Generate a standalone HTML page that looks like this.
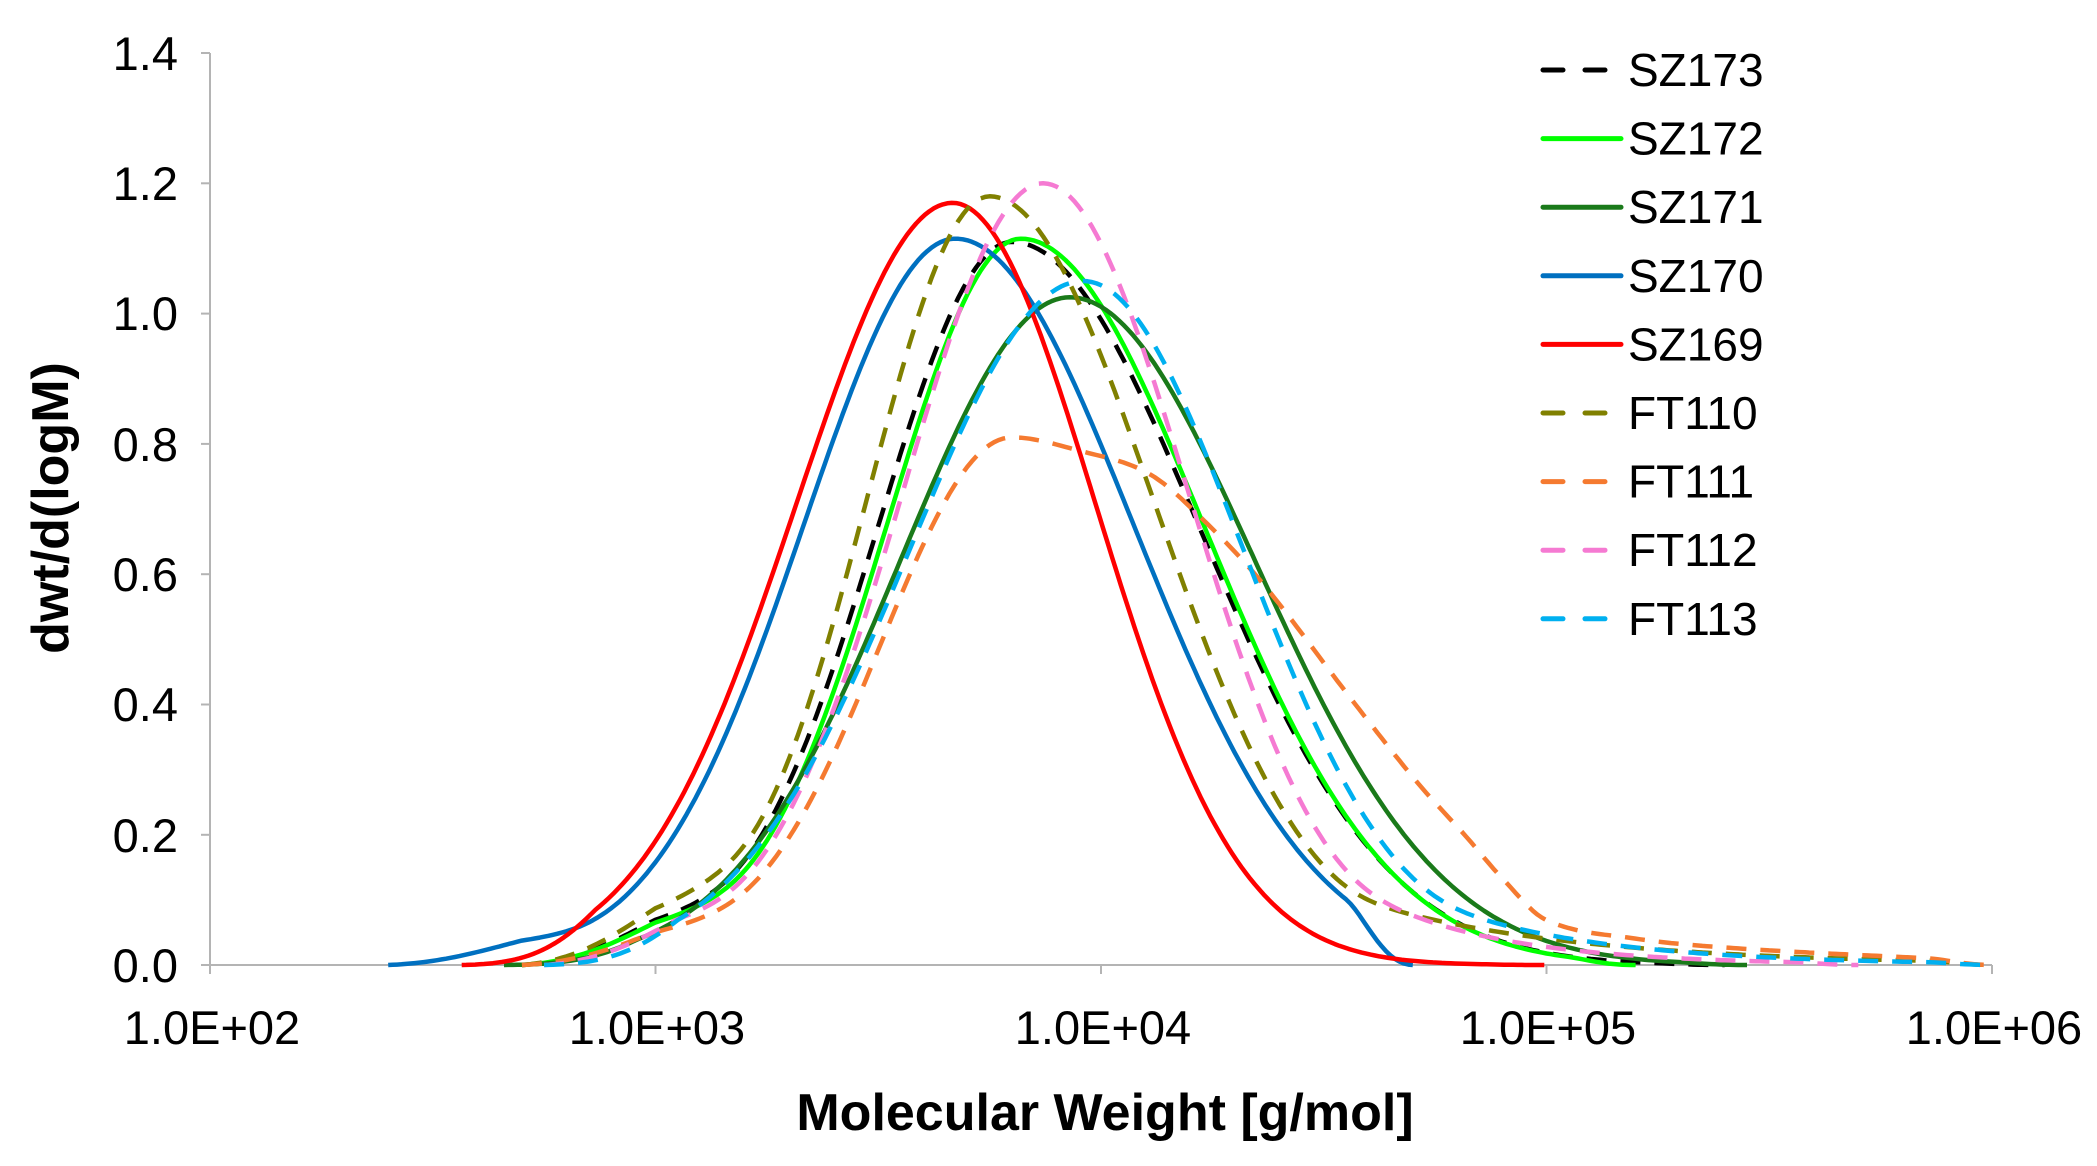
<!DOCTYPE html>
<html><head><meta charset="utf-8"><style>
html,body{margin:0;padding:0;background:#fff;}
svg{display:block;font-family:"Liberation Sans",Arial,sans-serif;}
</style></head><body>
<svg id="s" width="2097" height="1166" viewBox="0 0 2097 1166" xmlns="http://www.w3.org/2000/svg">
<g stroke="#b4b4b4" stroke-width="2" fill="none">
<line x1="210" y1="53" x2="210" y2="965"/>
<line x1="210" y1="965" x2="1992" y2="965"/>
<line x1="201" y1="53" x2="210" y2="53"/>
<line x1="201" y1="183.3" x2="210" y2="183.3"/>
<line x1="201" y1="313.6" x2="210" y2="313.6"/>
<line x1="201" y1="443.9" x2="210" y2="443.9"/>
<line x1="201" y1="574.2" x2="210" y2="574.2"/>
<line x1="201" y1="704.5" x2="210" y2="704.5"/>
<line x1="201" y1="834.8" x2="210" y2="834.8"/>
<line x1="201" y1="965" x2="210" y2="965"/>
<line x1="210" y1="965" x2="210" y2="974"/>
<line x1="655.5" y1="965" x2="655.5" y2="974"/>
<line x1="1101" y1="965" x2="1101" y2="974"/>
<line x1="1546.5" y1="965" x2="1546.5" y2="974"/>
<line x1="1992" y1="965" x2="1992" y2="974"/>
</g>
<g font-size="47" fill="#000" text-anchor="end">
<text x="178" y="70">1.4</text>
<text x="178" y="200">1.2</text>
<text x="178" y="330">1.0</text>
<text x="178" y="461">0.8</text>
<text x="178" y="591">0.6</text>
<text x="178" y="721">0.4</text>
<text x="178" y="852">0.2</text>
<text x="178" y="982">0.0</text>
</g>
<g font-size="47" fill="#000" text-anchor="middle">
<text x="212" y="1044">1.0E+02</text>
<text x="657" y="1044">1.0E+03</text>
<text x="1103" y="1044">1.0E+04</text>
<text x="1548" y="1044">1.0E+05</text>
<text x="1994" y="1044">1.0E+06</text>
</g>
<text x="1105" y="1130" font-size="52" font-weight="bold" text-anchor="middle">Molecular Weight [g/mol]</text>
<text transform="translate(68,508) rotate(-90)" font-size="52" font-weight="bold" text-anchor="middle">dwt/d(logM)</text>
<g id="curves" fill="none" stroke-width="4.5" stroke-linejoin="round"></g>
<g id="legend" font-size="46" fill="#000"></g>
</svg>
<script>
var NS="http://www.w3.org/2000/svg";
function X(l){return 210+(l-2)*445.5;}
function Y(v){return 965-v*651.4;}
var P=[[-0.15,0.975],[0,1],[0.15,0.975],[0.31,0.93],[0.446,0.83],[0.57,0.716],[0.76,0.506],[0.91,0.346],[1.02,0.243],[1.1,0.165],[1.2,0.085],[1.4,0.05],[1.62,0.032],[2.0,0.015],[2.2,0.008],[2.5,0.004]];
function tab(d){for(var i=1;i<P.length-2;i++){if(d<=P[i+1][0]){var p0=P[i-1],p1=P[i],p2=P[i+1],p3=P[i+2];var t=(d-p1[0])/(p2[0]-p1[0]);
 var m1=(p2[1]-p0[1])/(p2[0]-p0[0])*(p2[0]-p1[0]),m2=(p3[1]-p1[1])/(p3[0]-p1[0])*(p2[0]-p1[0]);
 var t2=t*t,t3=t2*t;return (2*t3-3*t2+1)*p1[1]+(t3-2*t2+t)*m1+(-2*t3+3*t2)*p2[1]+(t3-t2)*m2;}}return 0.004;}
var S=[
{n:"SZ173",c:"#000000",dash:true,p:3.80,h:1.11,sl:.30,sr:.42,lw:.9,lL:.3,x0:2.70,x1:5.4},
{n:"SZ172",c:"#00ff00",p:3.82,h:1.115,sl:.30,sr:.41,lw:.9,lL:.3,x0:2.70,x1:5.2},
{n:"SZ171",c:"#1a7a1a",p:3.93,h:1.025,sl:.38,sr:.415,x0:2.66,x1:5.45},
{n:"SZ170",c:"#0070c0",p:3.673,h:1.115,sl:.34,sr:.40,lw:.5,lL:.36,x0:2.40,x1:4.7},
{n:"SZ169",c:"#ff0000",p:3.667,h:1.17,sl:.35,sr:.32,x0:2.565,x1:5.0},
{n:"FT110",c:"#808000",dash:true,p:3.75,h:1.18,sl:.275,sr:.367,rw:.49,rL:.47,lw:.9,lL:.3,x0:2.70,x1:6.0},
{n:"FT111",c:"#f57a30",dash:true,p:3.80,h:.81,sl:.295,tabR:true,lw:.9,lL:.3,x0:2.70,x1:6.0},
{n:"FT112",c:"#f57ad2",dash:true,p:3.87,h:1.2,sl:.314,sr:.325,rw:1.0,rL:.3,lw:.9,lL:.3,x0:2.75,x1:5.7},
{n:"FT113",c:"#00b0f0",dash:true,p:3.96,h:1.05,sl:.39,sr:.36,rw:.8,rL:.36,x0:2.75,x1:6.0}
];
function sm(q){return q*q*(3-2*q);}
function f(s,x){var d=x-s.p,g,t=0;
 if(d<0){g=Math.exp(-d*d/(2*s.sl*s.sl));if(s.lw)t=s.lw*Math.exp(d/s.lL);}
 else{ if(s.tabR){g=tab(d);} else {g=Math.exp(-d*d/(2*s.sr*s.sr));if(s.rw)t=s.rw*Math.exp(-d/s.rL);} }
 t=t*Math.sqrt(Math.max(0,1-g*g));
 var v=s.h*Math.pow(Math.pow(g,6)+Math.pow(t,6),1/6);
 if(x<s.x0)return 0;
 var r=0.3;
 if(x<s.x0+r){var q=(x-s.x0)/r;v*=0.5*sm(q)+0.5*q;}
 if(x>s.x1)return 0;
 var r2=0.15;
 if(x>s.x1-r2){var q=(s.x1-x)/r2;v*=sm(q);}
 return v;}
var cg=document.getElementById("curves"),lg=document.getElementById("legend");
S.forEach(function(s,i){
 var d="";for(var x=s.x0;x<=s.x1+1e-9;x+=0.01){d+=(d?"L":"M")+X(x).toFixed(1)+","+Y(f(s,x)).toFixed(1);}
 var p=document.createElementNS(NS,"path");p.setAttribute("d",d);p.setAttribute("stroke",s.c);
 if(s.dash)p.setAttribute("stroke-dasharray","20,14");
 cg.appendChild(p);
 var yy=70+i*68.6;
 var l=document.createElementNS(NS,"line");l.setAttribute("x1",1543);l.setAttribute("x2",1621);l.setAttribute("y1",yy);l.setAttribute("y2",yy);
 l.setAttribute("stroke",s.c);l.setAttribute("stroke-width",5);l.setAttribute("stroke-linecap","round");
 if(s.dash)l.setAttribute("stroke-dasharray","20,22");
 lg.appendChild(l);
 var t=document.createElementNS(NS,"text");t.setAttribute("x",1628);t.setAttribute("y",yy+16);t.textContent=s.n;lg.appendChild(t);
});
</script>
</body></html>
